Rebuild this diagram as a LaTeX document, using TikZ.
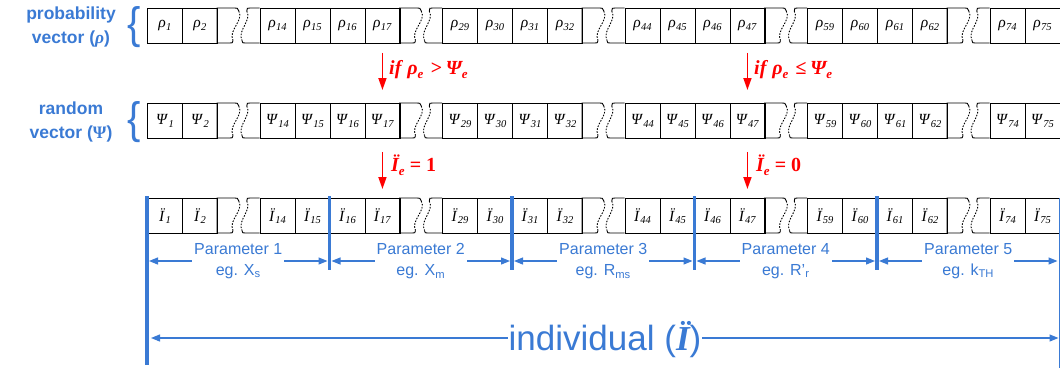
\documentclass[tikz,border=0pt]{standalone}
\usepackage{fontspec}
\setmainfont{Liberation Serif}
\newfontfamily\sansf{Liberation Sans}
\usetikzlibrary{arrows.meta}
\definecolor{pblue}{RGB}{58,122,212}
\definecolor{pred}{RGB}{255,0,0}
\newcommand\csub[2]{\textit{#1}\kern0.3pt\raisebox{-0.35ex}{\fontsize{10.5}{10.5}\selectfont\textit{#2}}}
\newcommand\rsub[1]{\raisebox{-0.45ex}{\fontsize{13}{13}\selectfont #1}}
\begin{document}
\begin{tikzpicture}[x=1pt,y=-1pt,
  cell/.style={draw,line width=0.9pt,minimum width=35pt,minimum height=35pt,inner sep=0pt,anchor=north west,font=\fontsize{15.5}{15.5}\selectfont},
  cellline/.style={line width=0.9pt},
  tear/.style={line width=0.9pt,dash pattern=on 1.6pt off 1.4pt},
  sep/.style={pblue,line width=3.6pt},
  barrow/.style={pblue,line width=1.2pt,{Triangle[length=9pt,width=7pt]}-{Triangle[length=9pt,width=7pt]}},
  rarrow/.style={pred,line width=1.6pt,-{Triangle[length=12pt,width=8pt]}},
  rlabel/.style={text=pred,anchor=base west,inner sep=0pt,font=\fontsize{20}{20}\selectfont\bfseries\itshape},
  plabel/.style={fill=white,inner xsep=2pt,inner ysep=0pt,align=center,text=pblue,font=\sansf\fontsize{16}{21}\selectfont},
  vlabel/.style={align=center,text=pblue,inner sep=0pt,font=\sansf\bfseries\fontsize{17.5}{24}\selectfont},
  bracest/.style={text=pblue,inner sep=0pt,font=\sansf\fontsize{42}{42}\selectfont}
]
\useasboundingbox (0,0) rectangle (1060,368);

% ---- cells of the three rows
\foreach \rw/\tp/\sy in {p/8/ρ, s/103/Ψ, i/198/Ï}{
  \pgfmathsetmacro\bt{\tp+35}
  \foreach \bi in {0,...,4}{
    \pgfmathsetmacro\sx{147+182.5*\bi}
    \pgfmathtruncatemacro\na{15*\bi+1}
    \pgfmathtruncatemacro\nb{15*\bi+2}
    \pgfmathtruncatemacro\nc{15*\bi+14}
    \pgfmathtruncatemacro\nd{15*\bi+15}
    \node[cell] (\rw\na) at (\sx,\tp) {\csub{\sy}{\na}};
    \node[cell] (\rw\nb) at ({\sx+35},\tp) {\csub{\sy}{\nb}};
    \node[cell] (\rw\nc) at ({\sx+112.5},\tp) {\csub{\sy}{\nc}};
    \node[cell] (\rw\nd) at ({\sx+147.5},\tp) {\csub{\sy}{\nd}};
    \pgfmathsetmacro\xo{\sx+91}
    \pgfmathsetmacro\xl{\sx+100}
    % left torn piece
    \draw[cellline] ({\xo+0.8},{\tp+3}) .. controls ({\xo-0.5},\tp) .. ({\xo-3},\tp)
       -- ({\sx+70},\tp) -- ({\sx+70},\bt) -- ({\xo-8},\bt)
       .. controls ({\xo-5.5},\bt) .. ({\xo-5},{\bt-2.5});
    \draw[tear] ({\xo+0.8},{\tp+3}) .. controls ({\xo+6},{\tp+13}) and ({\xo-10},{\bt-13}) .. ({\xo-5},{\bt-2.5});
    % right torn piece
    \draw[cellline] ({\xl-0.2},{\tp+3}) .. controls ({\xl},\tp) .. ({\xl+3},\tp) -- ({\sx+112.5},\tp);
    \draw[cellline] ({\xl-5},{\bt-2.5}) .. controls ({\xl-4.5},\bt) .. ({\xl-2},\bt) -- ({\sx+112.5},\bt);
    \draw[tear] ({\xl-0.2},{\tp+3}) .. controls ({\xl+5},{\tp+13}) and ({\xl-10},{\bt-13}) .. ({\xl-5},{\bt-2.5});
  }
}

% ---- left labels and braces
\node[vlabel] (lp) at (71,27) {probability\\vector ({\rmfamily\bfseries\itshape ρ})};
\node[vlabel] (ls) at (71,122) {random\\vector ({\rmfamily Ψ})};
\node[bracest] (bp) at (134,27) {\scalebox{0.95}[1.05]{\{}};
\node[bracest] (bs) at (134,122) {\scalebox{0.95}[1.05]{\{}};

% ---- red arrows and conditions
\draw[rarrow,shorten <=9pt,shorten >=13pt] (p17.south) -- (s17.north);
\draw[rarrow,shorten <=9pt,shorten >=13pt] (p47.south) -- (s47.north);
\draw[rarrow,shorten <=13pt,shorten >=9pt] (s17.south) -- (i17.north);
\draw[rarrow,shorten <=13pt,shorten >=9pt] (s47.south) -- (i47.north);
\node[rlabel] (c1) at (389,74) {if\hspace{6pt}ρ\rsub{e}\hspace{7pt}>\hspace{4pt}Ψ\rsub{e}};
\node[rlabel] (c2) at (754,74) {if\hspace{6pt}ρ\rsub{e}\hspace{7pt}≤\hspace{4pt}Ψ\rsub{e}};
\node[rlabel] (c3) at (391,171) {Ï\rsub{e} {\upshape = 1}};
\node[rlabel] (c4) at (756,171) {Ï\rsub{e} {\upshape = 0}};

% ---- blue separators
\draw[sep] (147,196) -- (147,365);
\foreach \bi in {1,...,4}{
  \pgfmathsetmacro\sx{147+182.5*\bi}
  \draw[sep] (\sx,196) -- (\sx,270);
}
\draw[pblue,line width=1.2pt] (1059.4,198) -- (1059.4,368);

% ---- parameter dimension arrows
\foreach \bi/\sub in {0/X\textsubscript{s},1/X\textsubscript{m},2/R\textsubscript{ms},3/R’\textsubscript{r},4/k\textsubscript{TH}}{
  \pgfmathsetmacro\sx{147+182.5*\bi}
  \pgfmathtruncatemacro\kk{\bi+1}
  \coordinate (pa\kk) at ({\sx+2},261);
  \coordinate (pb\kk) at ({\sx+180.5},261);
  \draw[barrow] (pa\kk) -- (pb\kk);
  \node[plabel] (par\kk) at ({\sx+91.25},261) {Parameter \kk\\eg. \sub};
}

% ---- individual
\coordinate (il) at (151,338);
\coordinate (ir) at (1058.5,338);
\draw[barrow] (il) -- (ir);
\node[fill=white,inner xsep=1pt,inner ysep=0pt,anchor=base,text=pblue] (ind) at (605,350)
  {\sansf\fontsize{35}{35}\selectfont individual ({\rmfamily\bfseries\itshape Ï})};
\end{tikzpicture}
\end{document}
